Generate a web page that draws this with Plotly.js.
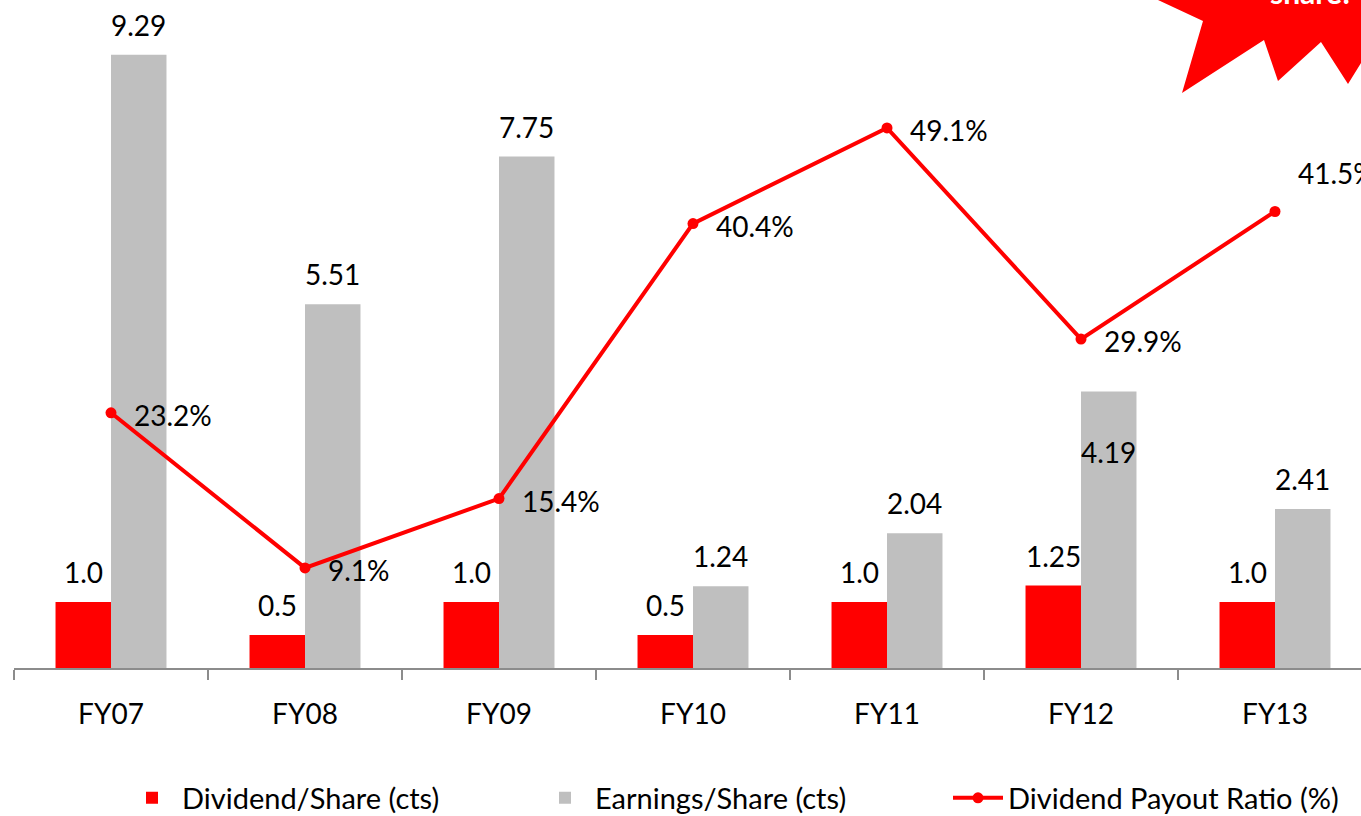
<!DOCTYPE html>
<html>
<head>
<meta charset="utf-8">
<script src="https://cdn.plot.ly/plotly-3.0.1.min.js"></script>
<style>html,body{margin:0;padding:0;overflow:hidden;background:#fff}</style>
</head>
<body>
<div id="chart" style="width:1361px;height:816px"></div>
<script>
const categories = ["FY07","FY08","FY09","FY10","FY11","FY12","FY13"];
const dividendPerShare = [1.0, 0.5, 1.0, 0.5, 1.0, 1.25, 1.0];
const dividendLabels = ["1.0","0.5","1.0","0.5","1.0","1.25","1.0"];
const earningsPerShare = [9.29, 5.51, 7.75, 1.24, 2.04, 4.19, 2.41];
const earningsLabels = ["9.29","5.51","7.75","1.24","2.04","4.19","2.41"];
const payoutRatio = [23.2, 9.1, 15.4, 40.4, 49.1, 29.9, 41.5];
const payoutLabels = ["23.2%","9.1%","15.4%","40.4%","49.1%","29.9%","41.5%"];

const W = 1361, H = 816;
const mL = 14, mR = 0, mT = 20, mB = 148;
const plotW = W - mL - mR, plotH = H - mT - mB;
const catPx = 194;
const y1PerPx = 66, y2PerPx = 11;

const FONT = "Lato, 'Open Sans', sans-serif";
const RED = "#FF0000", GRAY = "#BFBFBF";
const LBL = 28;

const traces = [
  {type:"bar", name:"Dividend/Share (cts)", x:categories, y:dividendPerShare,
   marker:{color:RED}, hoverinfo:"skip"},
  {type:"bar", name:"Earnings/Share (cts)", x:categories, y:earningsPerShare,
   marker:{color:GRAY}, hoverinfo:"skip"},
  {type:"scatter", mode:"lines+markers", name:"Dividend Payout Ratio (%)", x:categories, y:payoutRatio,
   yaxis:"y2", line:{color:RED, width:4}, marker:{color:RED, size:11}, hoverinfo:"skip"}
];

const annotations = [];
const barShift = catPx * (1 - 0.428) / 4;
categories.forEach((c, i) => {
  annotations.push({x:c, y:dividendPerShare[i], xref:"x", yref:"y", text:dividendLabels[i],
    showarrow:false, xanchor:"center", yanchor:"middle", xshift:-barShift, yshift:30,
    font:{family:FONT, size:LBL, color:"#000"}});
  const inside = earningsLabels[i] === "4.19";
  annotations.push({x:c, y:earningsPerShare[i], xref:"x", yref:"y", text:earningsLabels[i],
    showarrow:false, xanchor:"center", yanchor:"middle", xshift:barShift, yshift: inside ? -61 : 30,
    font:{family:FONT, size:LBL, color:"#000"}});
  const last = i === categories.length - 1;
  annotations.push({x:c, y:payoutRatio[i], xref:"x", yref:"y2", text:payoutLabels[i],
    showarrow:false, xanchor:"left", yanchor:"middle", xshift:21, yshift: last ? 39 : -2,
    font:{family:FONT, size:LBL, color:"#000"}});
});

// decorative starburst (top right), pixel outline converted to paper coords
const burstPx = [[1158,-5],[1158,0],[1203,21],[1182,93],[1264,40],[1278,81],[1321,42],[1348,84],[1361,63],[1361,-5]];
const toPaper = p => [(p[0]-mL)/plotW, (H-mB-p[1])/plotH];
const burstPath = burstPx.map((p,k)=>{const q=toPaper(p);return (k?"L":"M")+q[0].toFixed(5)+","+q[1].toFixed(5);}).join(" ")+" Z";
annotations.push({xref:"paper", yref:"paper", x:(1268-mL)/plotW, y:(H-mB-12)/plotH,
  xanchor:"left", yanchor:"bottom", showarrow:false, text:"<b>share!</b>",
  font:{family:FONT, size:30, color:"#FFFFFF"}});

const layout = {
  width:W, height:H,
  margin:{l:mL, r:mR, t:mT, b:mB, pad:0, autoexpand:false},
  paper_bgcolor:"#fff", plot_bgcolor:"#fff",
  barmode:"group", bargap:0.428, bargroupgap:0,
  showlegend:true,
  legend:{orientation:"h", x:(122-mL)/plotW, xanchor:"left", y:(H-mB-798)/plotH, yanchor:"middle",
    font:{family:FONT, size:29, color:"#000"}, entrywidth:348, itemwidth:50, traceorder:"normal"},
  xaxis:{type:"category", range:[-0.5, -0.5 + plotW/catPx], showline:true, linecolor:"#8C8C8C", linewidth:2,
    ticks:"outside", tickson:"boundaries", ticklen:10, tickcolor:"#8C8C8C", tickwidth:2,
    showgrid:false, zeroline:false, ticklabelstandoff:20,
    tickfont:{family:FONT, size:28, color:"#000"}, fixedrange:true},
  yaxis:{range:[0, plotH/y1PerPx], visible:false, showgrid:false, zeroline:false},
  yaxis2:{range:[0, plotH/y2PerPx], overlaying:"y", side:"right", visible:false, showgrid:false, zeroline:false},
  shapes:[{type:"path", xref:"paper", yref:"paper", path:burstPath, fillcolor:RED, line:{width:0}, layer:"below"}],
  annotations:annotations
};

Plotly.newPlot("chart", traces, layout, {staticPlot:true, displayModeBar:false});
</script>
</body>
</html>
